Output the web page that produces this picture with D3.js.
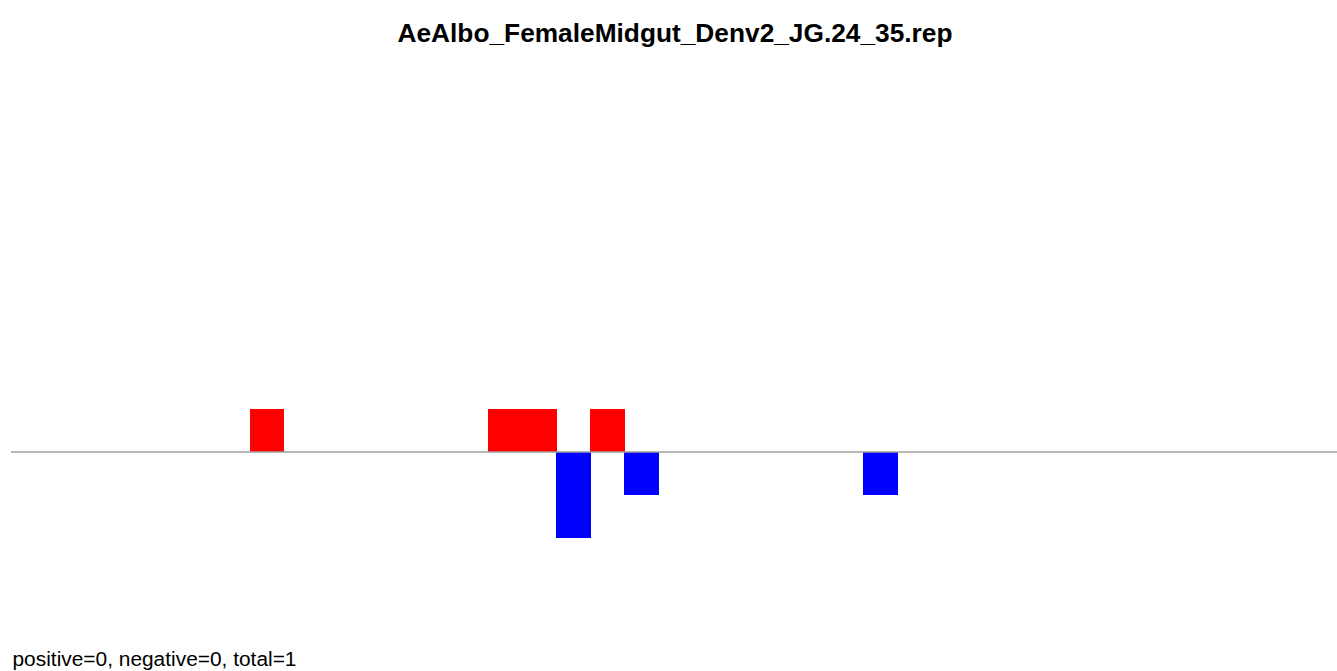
<!DOCTYPE html>
<html>
<head>
<meta charset="utf-8">
<script src="https://cdn.jsdelivr.net/npm/d3@7"></script>
<style>
  html, body { margin: 0; padding: 0; background: #fff; }
  svg { display: block; }
</style>
</head>
<body>
<script>
const title = "AeAlbo_FemaleMidgut_Denv2_JG.24_35.rep";
const footer = "positive=0, negative=0, total=1";
const posBins = [7, 14, 15, 17];
const posValues = [1, 1, 1, 1];
const negBins = [16, 18, 25];
const negValues = [2, 1, 1];
const nBins = 39;

const W = 1337, H = 671;
const svg = d3.select("body").append("svg").attr("width", W).attr("height", H);

const x = d3.scaleLinear().domain([0, nBins]).range([11, 11 + nBins * 34.08]);
const y = d3.scaleLinear().domain([-2, 1]).range([538, 409]);

const pos = posBins.map((b, i) => ({ b, v: posValues[i] }));
const neg = negBins.map((b, i) => ({ b, v: negValues[i] }));

svg.selectAll("rect.pos").data(pos).enter().append("rect")
  .attr("class", "pos")
  .attr("x", d => x(d.b)).attr("width", d => x(d.b + 1) - x(d.b) + 0.5)
  .attr("y", d => y(d.v)).attr("height", d => y(0) - y(d.v))
  .attr("fill", "#ff0000")
  .attr("shape-rendering", "crispEdges");

svg.selectAll("rect.neg").data(neg).enter().append("rect")
  .attr("class", "neg")
  .attr("x", d => x(d.b)).attr("width", d => x(d.b + 1) - x(d.b) + 0.5)
  .attr("y", y(0)).attr("height", d => y(-d.v) - y(0))
  .attr("fill", "#0000ff")
  .attr("shape-rendering", "crispEdges");

svg.append("line")
  .attr("x1", x(0)).attr("x2", W)
  .attr("y1", y(0)).attr("y2", y(0))
  .attr("stroke", "#a0a0a0").attr("stroke-width", 1.6);

svg.append("text")
  .attr("x", 397.5).attr("y", 42)
  .attr("font-family", "Liberation Sans, Arial, sans-serif")
  .attr("font-weight", "bold").attr("font-size", 26.5)
  .attr("textLength", 555).attr("lengthAdjust", "spacingAndGlyphs")
  .attr("fill", "#000")
  .text(title);

svg.append("text")
  .attr("x", 12.5).attr("y", 666)
  .attr("font-family", "Liberation Sans, Arial, sans-serif")
  .attr("font-size", 19.5)
  .attr("textLength", 284).attr("lengthAdjust", "spacingAndGlyphs")
  .attr("fill", "#000")
  .text(footer);
</script>
</body>
</html>
